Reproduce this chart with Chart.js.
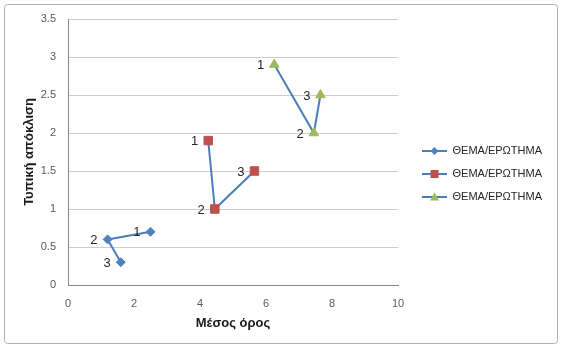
<!DOCTYPE html>
<html lang="el">
<head>
<meta charset="UTF-8">
<title>Μέσος όρος - Τυπική απόκλιση</title>
<script src="https://cdn.jsdelivr.net/npm/chart.js"></script>
<style>
  body { margin: 0; background: #fff; }
  #chart-container { width: 564px; height: 353px; position: relative; }
</style>
</head>
<body>
<div id="chart-container"><canvas id="scatterChart"></canvas></div>
<script>
// data
const seriesNames = ['ΘΕΜΑ/ΕΡΩΤΗΜΑ', 'ΘΕΜΑ/ΕΡΩΤΗΜΑ', 'ΘΕΜΑ/ΕΡΩΤΗΜΑ'];
const pointLabels = ['1', '2', '3'];
const blueX = [2.5, 1.2, 1.6];
const blueY = [0.7, 0.6, 0.3];
const redX = [4.25, 4.45, 5.65];
const redY = [1.9, 1.0, 1.5];
const greenX = [6.25, 7.45, 7.65];
const greenY = [2.9, 2.0, 2.5];
const xTicks = [0, 2, 4, 6, 8, 10];
const yTicks = [0, 0.5, 1, 1.5, 2, 2.5, 3, 3.5];

const FONT = "'Liberation Sans', Arial, sans-serif";
const lineColor = '#4a7ebb';
const markerColors = ['#4f81bd', '#c0504d', '#9bbb59'];
const markerStyles = ['rectRot', 'rect', 'triangle'];
const markerSizes = [4.5, 6, 5.5];

const toPoints = (xs, ys) => xs.map((x, i) => ({ x: x, y: ys[i] }));

// little legend icons: blue line with the series marker in the middle
function makeIcon(idx) {
    const c = document.createElement('canvas');
    c.width = 37; c.height = 12;
    const g = c.getContext('2d');
    g.strokeStyle = lineColor;
    g.lineWidth = 2;
    g.beginPath(); g.moveTo(12, 6); g.lineTo(37, 6); g.stroke();
    g.fillStyle = markerColors[idx];
    const cx = 24.5, cy = 6;
    g.beginPath();
    if (idx === 0) {
        g.moveTo(cx, cy - 4); g.lineTo(cx + 4, cy); g.lineTo(cx, cy + 4); g.lineTo(cx - 4, cy);
    } else if (idx === 1) {
        g.rect(cx - 4, cy - 4, 8, 8);
    } else {
        g.moveTo(cx, cy - 4.5); g.lineTo(cx + 4.5, cy + 3.5); g.lineTo(cx - 4.5, cy + 3.5);
    }
    g.closePath(); g.fill();
    return c;
}
const icons = [0, 1, 2].map(makeIcon);

// legend box width so the plot area ends at x=398
const legendFontSize = 11;
const mctx = document.createElement('canvas').getContext('2d');
mctx.font = legendFontSize + 'px ' + FONT;
const legendTextW = mctx.measureText(seriesNames[0]).width;
const legendW = 12 + 37 + legendFontSize / 2 + legendTextW + 10;
const padRight = Math.max(0, 564 - 398 - legendW);

const frame = {
    id: 'frame',
    beforeDraw(chart) {
        const c = chart.ctx;
        c.save();
        c.strokeStyle = '#b0b0b0';
        c.lineWidth = 1;
        c.beginPath();
        c.roundRect(4.5, 4.5, 553, 339, 3);
        c.stroke();
        c.restore();
    }
};

const numberLabels = {
    id: 'numberLabels',
    afterDatasetsDraw(chart) {
        const c = chart.ctx;
        c.save();
        c.font = '13px ' + FONT;
        c.fillStyle = '#262626';
        c.textAlign = 'right';
        c.textBaseline = 'middle';
        chart.data.datasets.forEach((ds, di) => {
            chart.getDatasetMeta(di).data.forEach((pt, i) => {
                c.fillText(pointLabels[i], pt.x - 10, pt.y + 1);
            });
        });
        c.restore();
    }
};

const datasets = [[blueX, blueY], [redX, redY], [greenX, greenY]].map((d, i) => ({
    label: seriesNames[i],
    data: toPoints(d[0], d[1]),
    showLine: true,
    borderColor: lineColor,
    borderWidth: 2,
    pointStyle: markerStyles[i],
    pointRadius: markerSizes[i],
    pointHoverRadius: markerSizes[i],
    pointBackgroundColor: markerColors[i],
    pointBorderColor: markerColors[i],
    pointBorderWidth: 1
}));

const ctx = document.getElementById('scatterChart').getContext('2d');
const chart = new Chart(ctx, {
    type: 'scatter',
    data: { datasets: datasets },
    plugins: [frame, numberLabels],
    options: {
        responsive: true,
        maintainAspectRatio: false,
        animation: false,
        layout: { padding: { top: 19, left: 0, right: padRight, bottom: 24 } },
        plugins: {
            tooltip: { enabled: false },
            legend: {
                position: 'right',
                align: 'center',
                maxWidth: 300,
                labels: {
                    usePointStyle: true,
                    pointStyleWidth: 37,
                    padding: 12,
                    color: '#262626',
                    font: { family: FONT, size: legendFontSize },
                    generateLabels: (ch) => ch.data.datasets.map((ds, i) => ({
                        text: ds.label,
                        pointStyle: icons[i],
                        datasetIndex: i,
                        hidden: false,
                        lineWidth: 0,
                        fontColor: '#262626'
                    }))
                }
            }
        },
        scales: {
            x: {
                type: 'linear',
                min: 0,
                max: 10,
                afterBuildTicks: s => { s.ticks = xTicks.map(v => ({ value: v })); },
                afterFit: s => { s.height = 353 - 24 - 285; },
                grid: { display: false, drawTicks: false },
                border: { display: true, color: '#868686', width: 1 },
                ticks: { padding: 12, color: '#595959', font: { family: FONT, size: 11 }, callback: v => String(v) },
                title: {
                    display: true,
                    text: 'Μέσος όρος',
                    color: '#1a1a1a',
                    font: { family: FONT, size: 13, weight: 'bold', lineHeight: 1 },
                    padding: { top: 0, bottom: -0.5 }
                }
            },
            y: {
                type: 'linear',
                min: 0,
                max: 3.5,
                afterBuildTicks: s => { s.ticks = yTicks.map(v => ({ value: v })); },
                afterFit: s => { s.width = 68; },
                grid: { color: '#cdcdcd', drawTicks: false },
                border: { display: true, color: '#868686', width: 1 },
                ticks: { padding: 12, color: '#595959', font: { family: FONT, size: 11 }, callback: v => String(v) },
                title: {
                    display: true,
                    text: 'Τυπική απόκλιση',
                    color: '#1a1a1a',
                    font: { family: FONT, size: 13, weight: 'bold', lineHeight: 1.2 },
                    padding: { top: 22, bottom: 0 }
                }
            }
        }
    }
});
</script>
</body>
</html>
